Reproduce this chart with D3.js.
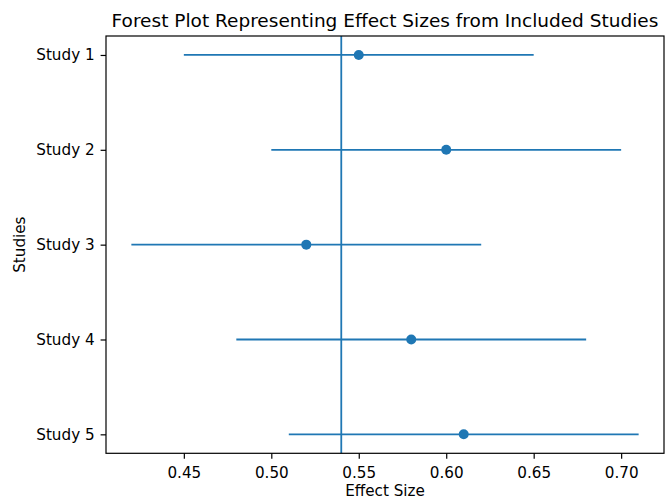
<!DOCTYPE html>
<html>
<head>
<meta charset="utf-8">
<script src="https://cdn.jsdelivr.net/npm/d3@7"></script>
<style>
  body { margin: 0; background: #fff; }
  svg { display: block; font-family: "DejaVu Sans", sans-serif; }
</style>
</head>
<body>
<div id="chart"></div>
<script>
const width = 665;
const height = 499;

// Data
const studies = ["Study 1", "Study 2", "Study 3", "Study 4", "Study 5"];
const effects = [0.55, 0.60, 0.52, 0.58, 0.61];
const lower = [0.45, 0.50, 0.42, 0.48, 0.51];
const upper = [0.65, 0.70, 0.62, 0.68, 0.71];
const refLine = 0.54;
const xTicks = [0.45, 0.50, 0.55, 0.60, 0.65, 0.70];

const margin = { top: 36, left: 106, bottom: 453.3, right: 664 };
const blue = "#1f77b4";
const tickFont = "15.2px";

const svg = d3.select("#chart").append("svg")
    .attr("width", width)
    .attr("height", height);

// matplotlib-style 5% margins
const lo = d3.min(lower), hi = d3.max(upper);
const pad = (hi - lo) * 0.05;
const x = d3.scaleLinear()
    .domain([lo - pad, hi + pad])
    .range([margin.left, margin.right]);

const n = studies.length;
const y = d3.scaleLinear()
    .domain([-0.2, n - 1 + 0.2])
    .range([margin.top, margin.bottom]);

// error bars
svg.selectAll("line.err")
    .data(studies)
    .enter().append("line")
    .attr("class", "err")
    .attr("x1", (d, i) => x(lower[i]))
    .attr("x2", (d, i) => x(upper[i]))
    .attr("y1", (d, i) => y(i))
    .attr("y2", (d, i) => y(i))
    .attr("stroke", blue)
    .attr("stroke-width", 1.8);

// reference line
svg.append("line")
    .attr("x1", x(refLine))
    .attr("x2", x(refLine))
    .attr("y1", margin.top)
    .attr("y2", margin.bottom)
    .attr("stroke", blue)
    .attr("stroke-width", 1.8);

// points
svg.selectAll("circle")
    .data(studies)
    .enter().append("circle")
    .attr("cx", (d, i) => x(effects[i]))
    .attr("cy", (d, i) => y(i))
    .attr("r", 5)
    .attr("fill", blue);

// axes
const xAxis = d3.axisBottom(x)
    .tickValues(xTicks)
    .tickFormat(d3.format(".2f"))
    .tickSize(5.4)
    .tickPadding(8.3);

const gx = svg.append("g")
    .attr("transform", `translate(0,${margin.bottom})`)
    .call(xAxis);

const yAxis = d3.axisLeft(y)
    .tickValues(d3.range(n))
    .tickFormat(i => studies[i])
    .tickSize(5.4)
    .tickPadding(6);

const gy = svg.append("g")
    .attr("transform", `translate(${margin.left},0)`)
    .call(yAxis);

[gx, gy].forEach(g => {
    g.select(".domain").remove();
    g.selectAll(".tick line").attr("stroke", "#000").attr("stroke-width", 1.2);
    g.selectAll(".tick text")
        .attr("fill", "#000")
        .style("font-family", "DejaVu Sans, sans-serif")
        .style("font-size", tickFont);
});
gx.selectAll(".tick text").attr("dy", null).attr("y", 5.4 + 8.3 + 10.8);

// frame
svg.append("rect")
    .attr("x", margin.left)
    .attr("y", margin.top)
    .attr("width", margin.right - margin.left)
    .attr("height", margin.bottom - margin.top)
    .attr("fill", "none")
    .attr("stroke", "#000")
    .attr("stroke-width", 1.2);

const cx = (margin.left + margin.right) / 2;

svg.append("text")
    .attr("x", cx)
    .attr("y", 26.7)
    .attr("text-anchor", "middle")
    .style("font-size", "18.5px")
    .text("Forest Plot Representing Effect Sizes from Included Studies");

svg.append("text")
    .attr("x", cx)
    .attr("y", 496)
    .attr("text-anchor", "middle")
    .style("font-size", tickFont)
    .text("Effect Size");

svg.append("text")
    .attr("transform", `translate(25,${(margin.top + margin.bottom) / 2}) rotate(-90)`)
    .attr("text-anchor", "middle")
    .style("font-size", tickFont)
    .text("Studies");
</script>
</body>
</html>
